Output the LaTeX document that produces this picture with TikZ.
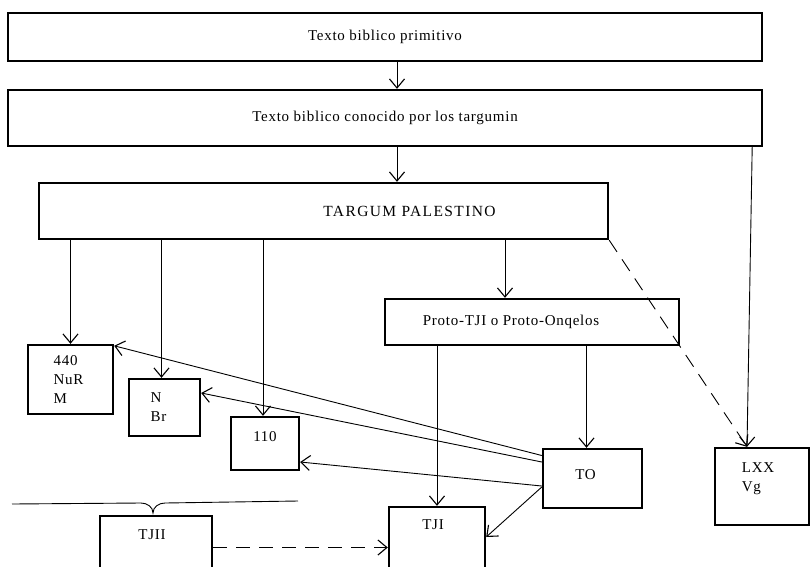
\documentclass[tikz,border=0pt]{standalone}
\usepackage{fontspec}
\setmainfont[LetterSpace=5]{Liberation Serif}
\newfontfamily\widefont[LetterSpace=9]{Liberation Serif}
\usetikzlibrary{arrows.meta,calc}

\begin{document}
\begin{tikzpicture}[x=1pt,y=-1pt,
  box/.style={draw,rectangle,line width=2.4pt,inner sep=0pt},
  arr/.style={line width=0.9pt,-{Straight Barb[length=9pt,width=15pt,line width=1.1pt]}},
  dasharr/.style={arr,dash pattern=on 14pt off 9pt},
  txt/.style={font=\fontsize{15}{19}\selectfont}]
\useasboundingbox (0,0) rectangle (812,566);
\clip (0,0) rectangle (812,566);

% upper row
\node [box,txt,minimum width=754,minimum height=48] (prim) at(385,37){Texto biblico primitivo};
\node [box,txt,minimum width=754,minimum height=56] (conoc) at(385,118){Texto biblico conocido por los targumin};
\node [box,minimum width=569,minimum height=56,
  label={[font=\widefont\fontsize{15.5}{18}\selectfont,xshift=86pt]center:TARGUM PALESTINO}] (tp) at(323.5,211){};
\node [box,minimum width=294,minimum height=46,
  label={[txt,xshift=-21pt]center:Proto-TJI o Proto-Onqelos}] (proto) at(532,322){};

% lower boxes
\node [box,minimum width=85,minimum height=69,
  label={[txt,align=left,xshift=-2pt]center:440\\NuR\\M}] (v440) at(70.5,379.5){};
\node [box,minimum width=71,minimum height=57,
  label={[txt,align=left,xshift=-6pt]center:N\\Br}] (nbr) at(164.5,407.5){};
\node [box,minimum width=68,minimum height=53,
  label={[txt,yshift=6.5pt]center:110}] (p110) at(265,443.5){};
\node [box,minimum width=99,minimum height=59,
  label={[txt,xshift=-7pt,yshift=3.5pt]center:TO}] (to) at(592.5,478.5){};
\node [box,minimum width=94,minimum height=77,
  label={[txt,align=left,xshift=-4pt,yshift=8pt]center:LXX\\Vg}] (lxx) at(762,486.5){};
\node [box,minimum width=96,minimum height=72,
  label={[txt,xshift=-4pt,yshift=18pt]center:TJI}] (tji) at(437,543){};
\node [box,minimum width=112,minimum height=63,
  label={[txt,xshift=-4pt,yshift=12.5pt]center:TJII}] (tjii) at(156,547.5){};

% brace over TJII
\draw [line width=0.9pt] (12,504) -- (141,503) to[out=0,in=90] (153,513)
  to[out=90,in=180] (165,503) -- (298,501);

\draw [arr] ([xshift=12pt]prim.south) -- ([xshift=12pt]conoc.north);
\draw [arr] ([xshift=12pt]conoc.south) -- ([xshift=12pt]conoc.south |- tp.north);
\draw [arr] ([xshift=-11pt]conoc.south east) -- ([xshift=-15pt]lxx.north);
\draw [dasharr] (tp.south east) -- ([xshift=-15pt]lxx.north);
\draw [arr] (tp.south -| v440) -- (v440);
\draw [arr] ([xshift=-3pt]tp.south -| nbr) -- ([xshift=-3pt]nbr.north);
\draw [arr] ([xshift=-2pt]tp.south -| p110) -- ([xshift=-2pt]p110.north);
\draw [arr] ([xshift=-27pt]proto.north |- tp.south) -- ([xshift=-27pt]proto.north);
\draw [arr] (proto.south -| tji) -- (tji);
\draw [arr] ([xshift=-6pt]proto.south -| to) -- ([xshift=-6pt]to.north);
\draw [arr] ([yshift=23pt]to.west) -- ([yshift=-2pt]v440.north east);
\draw [arr] ([yshift=16.5pt]to.west) -- ([yshift=14.5pt]nbr.east);
\draw [arr] ([yshift=-7.5pt]to.west) -- ([yshift=-18.5pt]p110.east);
\draw [arr] ([yshift=-8.5pt]to.west) -- ([yshift=6pt]tji.east);
\draw [dasharr] (tjii.east) -- (tjii.east -| tji.west);
\end{tikzpicture}
\end{document}
